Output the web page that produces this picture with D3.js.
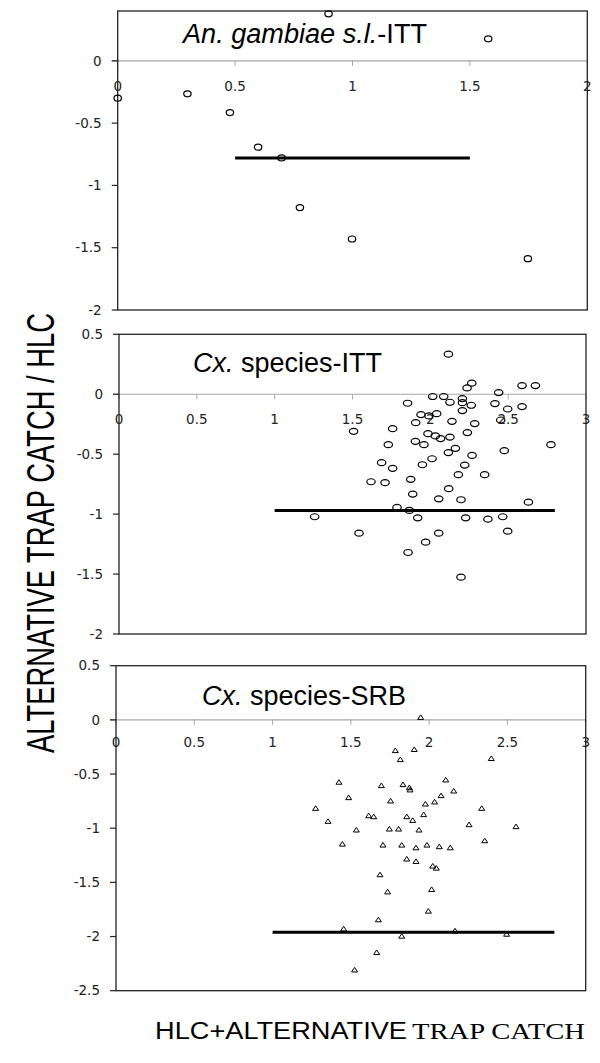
<!DOCTYPE html>
<html><head><meta charset="utf-8">
<script src="https://cdn.jsdelivr.net/npm/d3@7"></script>
<style>body{margin:0;background:#fff}svg{display:block}</style>
</head><body>
<script>
// ---- data ----
const anGambiaeX = [0, 0.297, 0.478, 0.598, 0.698, 0.776, 0.898, 0.998, 1.578, 1.747];
const anGambiaeY = [-0.30, -0.265, -0.415, -0.693, -0.779, -1.178, 0.377, -1.43, 0.177, -1.588];
const anGambiaeMean = {x0: 0.5, x1: 1.5, y: -0.78};

const cxIttX = [2.116, 2.266, 2.236, 2.589, 2.675, 2.439, 2.015, 2.086, 2.206, 1.854, 2.126, 2.206, 2.415, 2.263, 2.589, 2.497, 2.206, 1.940, 2.041, 1.991, 1.906, 2.139, 2.285, 2.452, 1.758, 1.507, 1.985, 2.032, 2.066, 2.126, 2.238, 1.904, 1.959, 1.730, 2.775, 2.161, 2.116, 2.475, 2.268, 2.011, 1.687, 1.949, 2.221, 1.758, 2.180, 2.349, 1.619, 1.709, 1.874, 2.118, 1.887, 2.054, 2.197, 2.630, 1.786, 1.865, 1.257, 1.919, 2.227, 2.370, 2.465, 1.542, 2.054, 2.497, 1.970, 1.857, 2.197];
const cxIttY = [0.334, 0.092, 0.053, 0.072, 0.072, 0.014, -0.019, -0.019, -0.036, -0.075, -0.067, -0.070, -0.078, -0.092, -0.103, -0.123, -0.136, -0.170, -0.162, -0.181, -0.237, -0.226, -0.245, -0.215, -0.287, -0.309, -0.329, -0.348, -0.370, -0.357, -0.320, -0.393, -0.421, -0.421, -0.421, -0.451, -0.487, -0.471, -0.510, -0.538, -0.571, -0.588, -0.591, -0.618, -0.671, -0.671, -0.730, -0.738, -0.710, -0.788, -0.833, -0.872, -0.880, -0.900, -0.944, -0.969, -1.022, -1.031, -1.031, -1.042, -1.022, -1.159, -1.159, -1.142, -1.234, -1.320, -1.526];
const cxIttMean = {x0: 1.0, x1: 2.8, y: -0.97};

const cxSrbX = [1.946, 1.784, 1.905, 1.816, 2.397, 1.424, 2.106, 1.695, 1.833, 1.874, 1.878, 2.157, 1.486, 2.076, 1.754, 2.035, 1.976, 1.275, 2.336, 1.965, 1.614, 1.646, 1.857, 1.895, 1.354, 2.255, 2.555, 1.535, 1.746, 1.805, 1.935, 1.446, 1.705, 1.825, 1.986, 1.916, 2.065, 2.135, 2.355, 1.857, 1.916, 2.023, 2.046, 1.686, 1.735, 2.016, 1.995, 1.676, 1.454, 1.825, 2.165, 2.495, 1.665, 1.524];
const cxSrbY = [0.025, -0.281, -0.271, -0.364, -0.354, -0.573, -0.552, -0.604, -0.595, -0.623, -0.644, -0.654, -0.715, -0.697, -0.746, -0.755, -0.774, -0.814, -0.814, -0.872, -0.882, -0.891, -0.891, -0.925, -0.934, -0.965, -0.983, -1.014, -1.005, -1.005, -1.014, -1.144, -1.153, -1.153, -1.153, -1.178, -1.168, -1.178, -1.113, -1.282, -1.304, -1.347, -1.366, -1.427, -1.585, -1.563, -1.763, -1.843, -1.927, -1.994, -1.945, -1.976, -2.145, -2.306];
const cxSrbMean = {x0: 1.0, x1: 2.8, y: -1.96};

const xTicks1 = [0, 0.5, 1, 1.5, 2];
const xTicks23 = [0, 0.5, 1, 1.5, 2, 2.5, 3];
const yTicks1 = [0, -0.5, -1, -1.5, -2];
const yTicks2 = [0.5, 0, -0.5, -1, -1.5, -2];
const yTicks3 = [0.5, 0, -0.5, -1, -1.5, -2, -2.5];

const yTitle = "ALTERNATIVE TRAP CATCH / HLC";
const xTitleSans = "HLC+ALTERNATIVE";
const xTitleSerif = "TRAP CATCH";

// ---- layout ----
const W = 600, H = 1063;
const svg = d3.select("body").append("svg").attr("width", W).attr("height", H);

const panels = [
  {xs: anGambiaeX, ys: anGambiaeY, mean: anGambiaeMean, xDom: [0, 2], yDom: [-2, 0.4],
   xTicks: xTicks1, yTicks: yTicks1, L: 117.7, R: 587.3, T: 11, B: 310,
   marker: "circle", rx: 3.7, ry: 3.0, lab: 25, title: [["An. gambiae s.l.", true], ["-ITT", false]],
   tx: 183, ty: 43, tlen: 244},
  {xs: cxIttX, ys: cxIttY, mean: cxIttMean, xDom: [0, 3], yDom: [-2, 0.5],
   xTicks: xTicks23, yTicks: yTicks2, L: 119, R: 586, T: 334.3, B: 634,
   marker: "circle", rx: 4.2, ry: 3.0, lab: 25, title: [["Cx.", true], [" species-ITT", false]],
   tx: 193, ty: 371.5, tlen: 189},
  {xs: cxSrbX, ys: cxSrbY, mean: cxSrbMean, xDom: [0, 3], yDom: [-2.5, 0.5],
   xTicks: xTicks23, yTicks: yTicks3, L: 116, R: 585.7, T: 665.7, B: 990.7,
   marker: "triangle", rx: 3, ry: 2.3, lab: 22, title: [["Cx.", true], [" species-SRB", false]],
   tx: 202, ty: 705, tlen: 204}
];

const fmt = v => (v === 0 ? "0" : String(v));

panels.forEach(p => {
  const x = d3.scaleLinear().domain(p.xDom).range([p.L, p.R]);
  const y = d3.scaleLinear().domain(p.yDom).range([p.B, p.T]);
  const g = svg.append("g");

  const y0 = y(0);
  g.append("line").attr("x1", p.L - 6).attr("x2", p.R).attr("y1", y0).attr("y2", y0)
    .attr("stroke", "#a6a6a6").attr("stroke-width", 1.2);
  g.selectAll(".xt").data(p.xTicks).enter().append("line")
    .attr("x1", d => x(d)).attr("x2", d => x(d)).attr("y1", y0).attr("y2", y0 + 5)
    .attr("stroke", "#a6a6a6").attr("stroke-width", 1);
  g.selectAll(".xl").data(p.xTicks).enter().append("text")
    .attr("x", d => x(d)).attr("y", y0 + p.lab + 4.7)
    .attr("text-anchor", "middle").attr("font-family", "DejaVu Sans").attr("font-size", 13.5)
    .attr("fill", "#222").text(fmt);

  g.append("rect").attr("x", p.L).attr("y", p.T).attr("width", p.R - p.L).attr("height", p.B - p.T)
    .attr("fill", "none").attr("stroke", "#222").attr("stroke-width", 1.3);
  g.selectAll(".yt").data(p.yTicks).enter().append("line")
    .attr("x1", p.L - 6).attr("x2", p.L).attr("y1", d => y(d)).attr("y2", d => y(d))
    .attr("stroke", "#222").attr("stroke-width", 1.2);
  g.selectAll(".yl").data(p.yTicks).enter().append("text")
    .attr("x", p.L - 16).attr("y", d => y(d) + 4.7)
    .attr("text-anchor", "end").attr("font-family", "DejaVu Sans").attr("font-size", 13.5)
    .attr("fill", "#222").text(fmt);

  g.append("line").attr("x1", x(p.mean.x0)).attr("x2", x(p.mean.x1))
    .attr("y1", y(p.mean.y)).attr("y2", y(p.mean.y))
    .attr("stroke", "#000").attr("stroke-width", 3);

  const pts = p.xs.map((v, i) => [v, p.ys[i]]);
  if (p.marker === "circle") {
    g.selectAll(".pt").data(pts).enter().append("ellipse")
      .attr("cx", d => x(d[0])).attr("cy", d => y(d[1]))
      .attr("rx", p.rx).attr("ry", p.ry)
      .attr("fill", "none").attr("stroke", "#000").attr("stroke-width", 1.2);
  } else {
    g.selectAll(".pt").data(pts).enter().append("path")
      .attr("d", d => {
        const cx = x(d[0]), cy = y(d[1]);
        return `M${cx},${cy - p.ry}L${cx + p.rx},${cy + p.ry}L${cx - p.rx},${cy + p.ry}Z`;
      })
      .attr("fill", "none").attr("stroke", "#000").attr("stroke-width", 1);
  }

  const t = g.append("text").attr("x", p.tx).attr("y", p.ty)
    .attr("font-family", "Liberation Sans, Arial, sans-serif").attr("font-size", 27)
    .attr("fill", "#000").attr("textLength", p.tlen).attr("lengthAdjust", "spacingAndGlyphs");
  p.title.forEach(([s, it]) => t.append("tspan").attr("font-style", it ? "italic" : "normal").text(s));
});

svg.append("text").attr("transform", "translate(54,533) rotate(-90)")
  .attr("text-anchor", "middle").attr("font-family", "Liberation Sans, Arial, sans-serif")
  .attr("font-size", 39).attr("textLength", 440).attr("lengthAdjust", "spacingAndGlyphs")
  .text(yTitle);

svg.append("text").attr("x", 155).attr("y", 1039)
  .attr("font-family", "Liberation Sans, Arial, sans-serif").attr("font-size", 23)
  .attr("textLength", 252).attr("lengthAdjust", "spacingAndGlyphs").text(xTitleSans);
svg.append("text").attr("x", 412).attr("y", 1039)
  .attr("font-family", "Liberation Serif, Times New Roman, serif").attr("font-size", 23)
  .attr("textLength", 173).attr("lengthAdjust", "spacingAndGlyphs").text(xTitleSerif);
</script>
</body></html>
